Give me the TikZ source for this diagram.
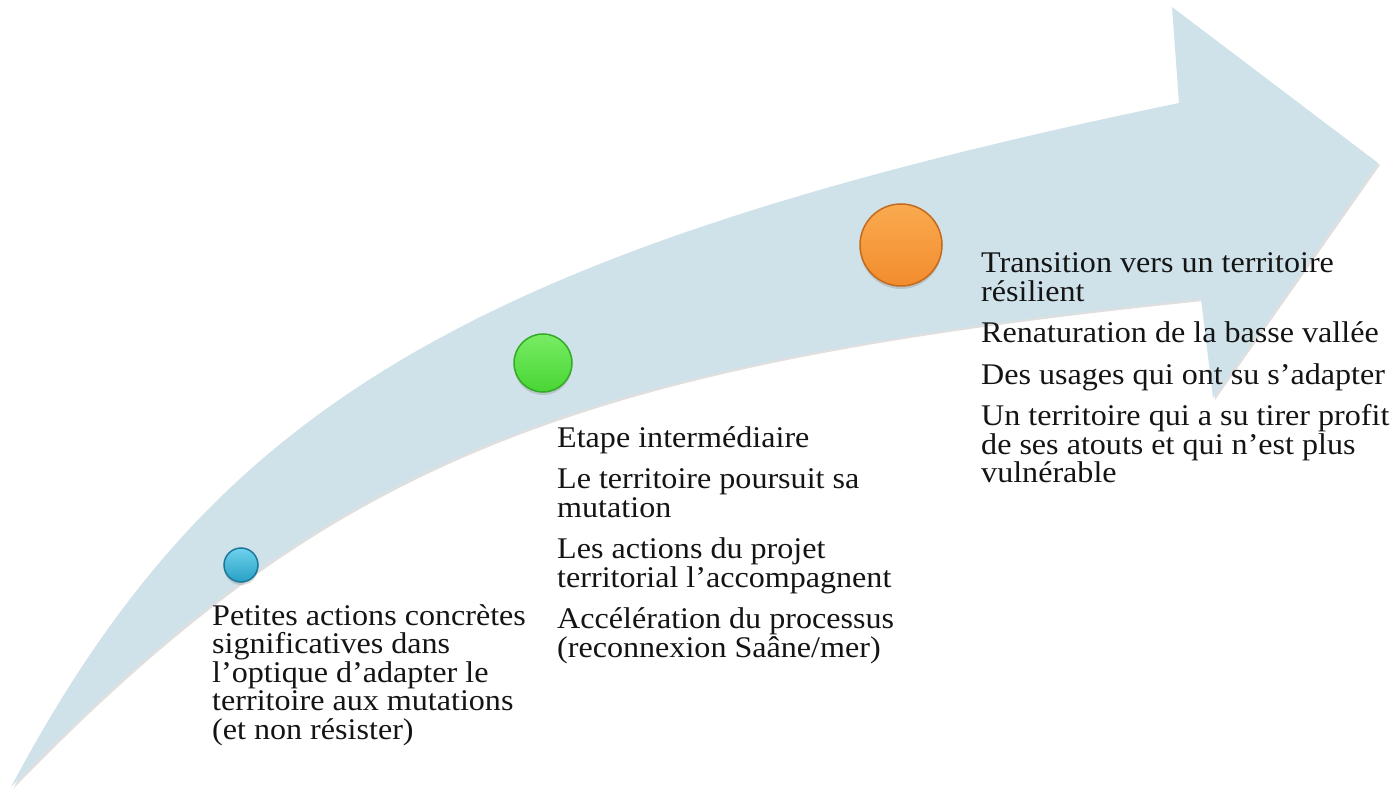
\documentclass[tikz,border=0pt]{standalone}
\usepackage{fontspec}
\setmainfont{Liberation Serif}[FakeStretch=1.07]
\usetikzlibrary{shadows}
\definecolor{arrowfill}{RGB}{207,226,234}
\definecolor{blueA}{RGB}{110,210,236}
\definecolor{blueB}{RGB}{40,160,198}
\definecolor{blueR}{RGB}{28,120,155}
\definecolor{greenA}{RGB}{120,236,100}
\definecolor{greenB}{RGB}{72,214,52}
\definecolor{greenR}{RGB}{52,170,38}
\definecolor{orangeA}{RGB}{250,170,80}
\definecolor{orangeB}{RGB}{242,140,45}
\definecolor{orangeR}{RGB}{196,106,28}
\definecolor{textc}{RGB}{20,20,20}
\tikzset{
  bigarrow/.style={fill=arrowfill, drop shadow={shadow xshift=2pt, shadow yshift=-2pt, opacity=0.25}},
  dot/.style={circle, inner sep=0pt, line width=1.5pt, drop shadow={shadow xshift=0pt, shadow yshift=-3pt, opacity=0.3}},
  label/.style={anchor=base west, inner sep=0pt, text=textc}
}
\newcommand{\blocktext}[1]{\parbox[t]{420pt}{\raggedright\fontsize{30}{28.5}\selectfont #1}}
\begin{document}
\begin{tikzpicture}[x=1pt,y=-1pt]
\useasboundingbox (0,0) rectangle (1392,794);
\clip (0,0) rectangle (1392,794);
\path[bigarrow] (11,787) .. controls (209,415) and (456,253) .. (1179,103)
  -- (1172,7) -- (1378,163) -- (1213,398) -- (1201,299)
  .. controls (565,364) and (327,461) .. (11,787) -- cycle;
\node[dot, minimum size=34pt, draw=blueR, top color=blueA, bottom color=blueB] (c1) at (241,565) {};
\node[dot, minimum size=58pt, draw=greenR, top color=greenA, bottom color=greenB] (c2) at (543,363) {};
\node[dot, minimum size=82pt, draw=orangeR, top color=orangeA, bottom color=orangeB] (c3) at (901,245) {};
\node[label] (t1) at (212,625) {\blocktext{Petites actions concrètes\\ significatives dans\\ l’optique d’adapter le\\ territoire aux mutations\\ (et non résister)}};
\node[label] (t2) at (557,447) {\blocktext{Etape intermédiaire\\[13pt] Le territoire poursuit sa\\ mutation\\[13pt] Les actions du projet\\ territorial l’accompagnent\\[13pt] Accélération du processus\\ (reconnexion Saâne/mer)}};
\node[label] (t3) at (981,273) {\blocktext{Transition vers un territoire\\ résilient\\[13pt] Renaturation de la basse vallée\\[13pt] Des usages qui ont su s’adapter\\[13pt] Un territoire qui a su tirer profit\\ de ses atouts et qui n’est plus\\ vulnérable}};
\end{tikzpicture}
\end{document}
